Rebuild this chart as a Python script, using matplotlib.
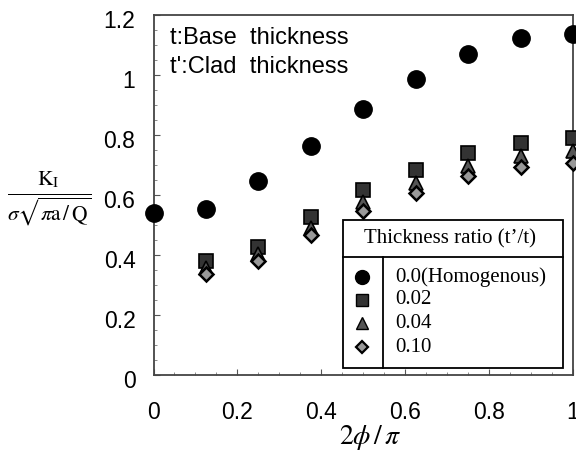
import matplotlib
matplotlib.use("Agg")
import matplotlib.pyplot as plt
from matplotlib.patches import Rectangle
from matplotlib.lines import Line2D
import matplotlib.transforms as mtransforms
import numpy as np

x_vals = [0.0, 0.125, 0.25, 0.375, 0.5, 0.625, 0.75, 0.875, 1.0]
k_homog = [0.539, 0.553, 0.647, 0.763, 0.886, 0.987, 1.069, 1.122, 1.137]
x_clad = [0.125, 0.25, 0.375, 0.5, 0.625, 0.75, 0.875, 1.0]
k_002 = [0.380, 0.428, 0.528, 0.617, 0.683, 0.741, 0.772, 0.789]
k_004 = [0.358, 0.405, 0.489, 0.578, 0.641, 0.697, 0.730, 0.748]
k_010 = [0.336, 0.380, 0.467, 0.548, 0.608, 0.664, 0.692, 0.708]
legend_labels = ["0.0(Homogenous)", "0.02", "0.04", "0.10"]
legend_title = "Thickness ratio (t\u2019/t)"

plt.rcParams['mathtext.fontset'] = 'stix'

W, H = 576, 457
fig = plt.figure(figsize=(W / 100, H / 100), dpi=100)
ax = fig.add_axes([153.5 / W, 1 - 375 / H, (573 - 153.5) / W, (375 - 15) / H])

ax.plot(x_vals, k_homog, 'o', ms=12.5, color='black', clip_on=False, zorder=3)
ax.plot(x_clad, k_002, 's', ms=10.5, mfc='#333333', mec='black', mew=1.2, clip_on=False, zorder=3)
ax.plot(x_clad, k_004, '^', ms=9.5, mfc='#555555', mec='black', mew=1.2, clip_on=False, zorder=3)
ax.plot(x_clad, k_010, 'D', ms=7.5, mfc='#999999', mec='black', mew=1.8, clip_on=False, zorder=3)

ax.set_xlim(0, 1)
ax.set_ylim(0, 1.2)
ax.set_xticks([0, 0.2, 0.4, 0.6, 0.8, 1.0])
ax.set_xticklabels(['0', '0.2', '0.4', '0.6', '0.8', '1'])
ax.set_yticks([0, 0.2, 0.4, 0.6, 0.8, 1.0, 1.2])
ax.set_yticklabels(['0', '0.2', '0.4', '0.6', '0.8', '1', '1.2'])
ax.set_xticks(np.arange(0, 1.001, 0.05), minor=True)
ax.set_yticks(np.arange(0, 1.201, 0.05), minor=True)
ax.tick_params(which='major', direction='in', length=4, width=0.8, color='#555555',
               labelsize=16.5)
ax.tick_params(axis='x', which='major', pad=19)
ax.tick_params(axis='y', which='major', pad=13)
ax.tick_params(which='minor', direction='in', length=2, width=0.6, color='#777777')
offset = mtransforms.ScaledTranslation(0, -4 / 100, fig.dpi_scale_trans)
for lab in ax.get_xticklabels() + ax.get_yticklabels():
    lab.set_fontfamily('Liberation Sans')
for lab in ax.get_yticklabels():
    lab.set_transform(lab.get_transform() + offset)
for s in ax.spines.values():
    s.set_color('#444444')
    s.set_linewidth(1.3)

ax.text(0.04, 0.935, "t:Base  thickness", transform=ax.transAxes, fontsize=17,
        family='Liberation Sans', va='center', ha='left')
ax.text(0.04, 0.855, "t':Clad  thickness", transform=ax.transAxes, fontsize=17,
        family='Liberation Sans', va='center', ha='left')

# legend table (in pixel-derived figure coordinates)
def fx(px):
    return px / W
def fy(py):
    return 1 - py / H

lx0, lx1, ly0, ly1 = 343, 563, 220, 368
ydiv, xdiv = 257, 383
fig.add_artist(Rectangle((fx(lx0), fy(ly1)), fx(lx1) - fx(lx0), fy(ly0) - fy(ly1),
                         transform=fig.transFigure, facecolor='white', edgecolor='black',
                         linewidth=1.3, zorder=5))
fig.add_artist(Line2D([fx(lx0), fx(lx1)], [fy(ydiv), fy(ydiv)], transform=fig.transFigure,
                      color='black', linewidth=1.3, zorder=6))
fig.add_artist(Line2D([fx(xdiv), fx(xdiv)], [fy(ydiv), fy(ly1)], transform=fig.transFigure,
                      color='black', linewidth=1.3, zorder=6))
fig.text(fx((lx0 + lx1) / 2 - 3), fy((ly0 + ydiv) / 2), legend_title, ha='center', va='center',
         family='Liberation Serif', fontsize=15, zorder=7)
rows_y = [277, 300, 323, 347]
styles = [dict(marker='o', ms=10, color='black'),
          dict(marker='s', ms=8.5, mfc='#333333', mec='black'),
          dict(marker='^', ms=8, mfc='#555555', mec='black'),
          dict(marker='D', ms=6.5, mfc='#999999', mec='black', mew=1.6)]
for ry, lab, st in zip(rows_y, legend_labels, styles):
    fig.add_artist(Line2D([fx(362)], [fy(ry)], transform=fig.transFigure, linestyle='none',
                          zorder=7, **st))
    fig.text(fx(395), fy(ry), lab, ha='left', va='center', family='Liberation Serif',
             fontsize=15, zorder=7)

# axis labels
fig.text(fx(49), fy(199), r'$\frac{\mathrm{K_I}}{\sigma\sqrt{\pi\mathrm{a}\,/\,\mathrm{Q}}}$',
         ha='center', va='center', fontsize=22)
fig.text(fx(370), fy(438), r'$2\phi\,/\,\pi$', ha='center', va='center', fontsize=20)

fig.savefig('out.png', dpi=100)
